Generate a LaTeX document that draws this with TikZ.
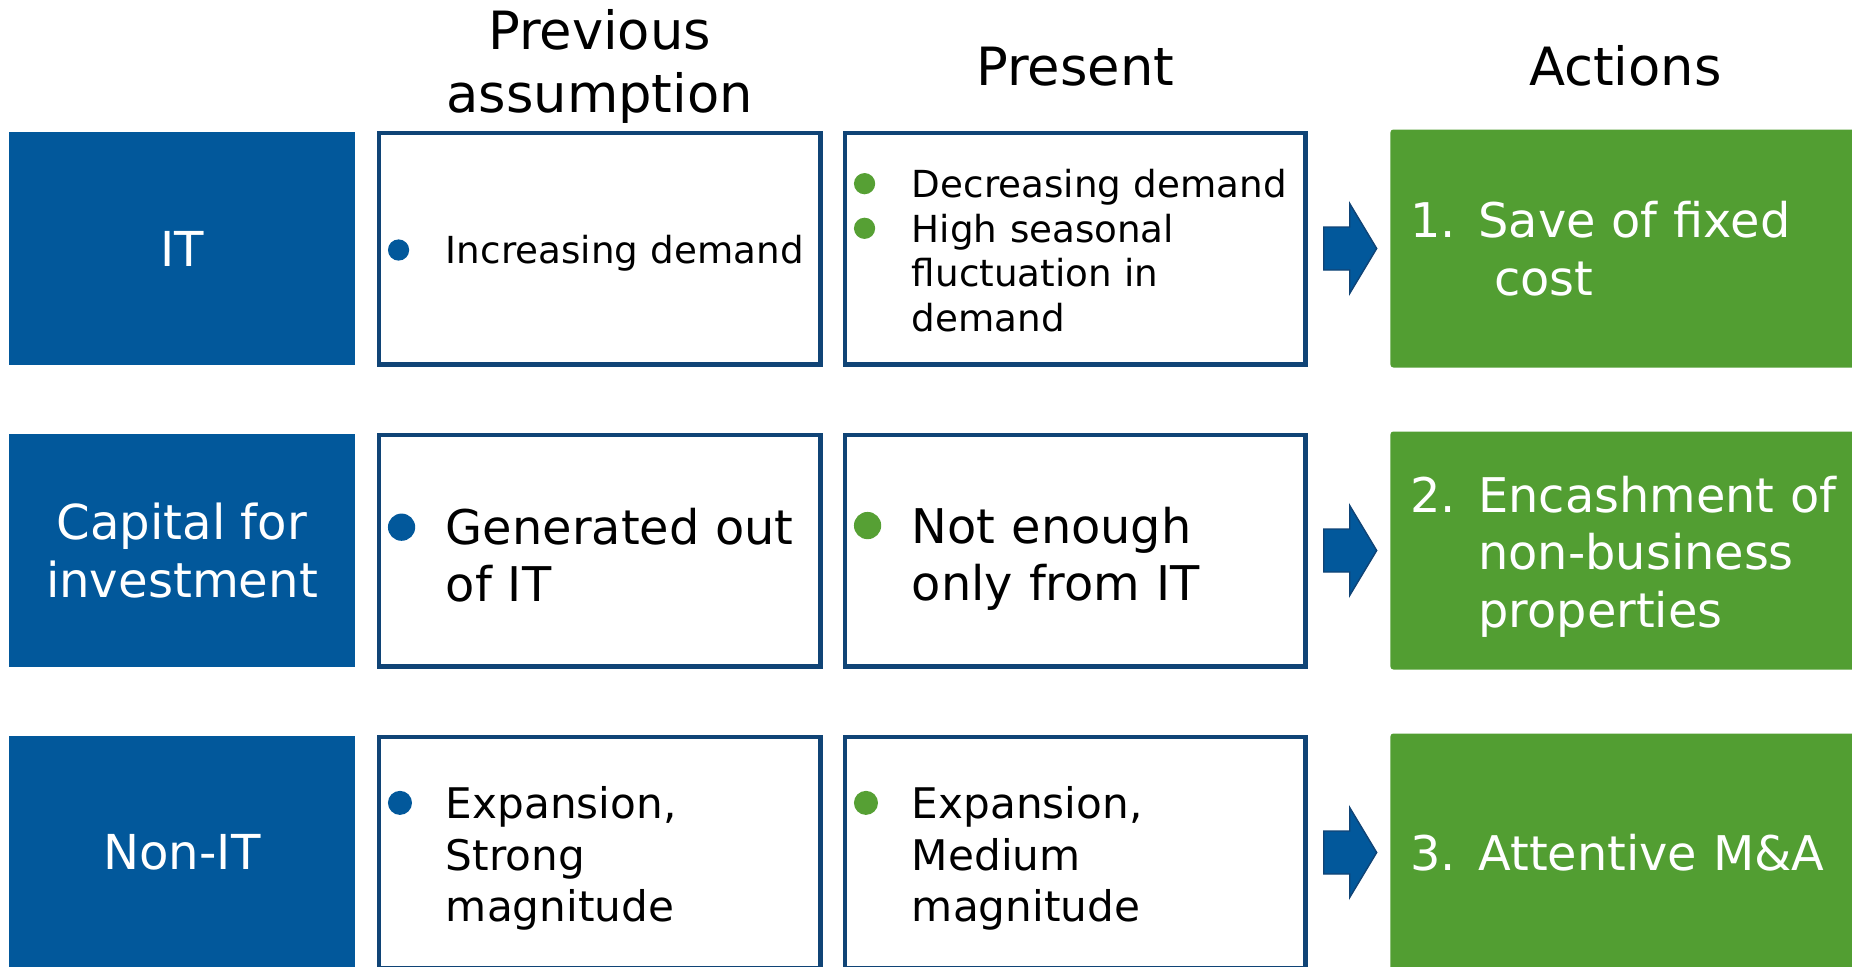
\documentclass[tikz,border=0pt]{standalone}
\usepackage{fontspec}
\setmainfont{DejaVu Sans}
\usepackage{xcolor}
\usepackage{tikz}
\usetikzlibrary{positioning}

\definecolor{topicblue}{RGB}{2,88,155}
\definecolor{framenavy}{RGB}{16,68,118}
\definecolor{actiongreen}{RGB}{82,158,50}
\definecolor{dotgreen}{RGB}{86,160,52}

% extra height of the first line, pushes the text down by this much
\newlength{\celldrop}
% line with a round dot and hanging indent
\newcommand{\dotitem}[2]{\hangindent=0.58cm\hangafter=1\noindent
  \rule{0pt}{\dimexpr0.76em+2\celldrop\relax}%
  \makebox[0.58cm][l]{\tikz[baseline=0pt]\fill[#1] (0.285em,0.37em) circle[radius=0.285em];}#2\par}
% numbered line with hanging indent
\newcommand{\numitem}[2]{\hangindent=0.68cm\hangafter=1\noindent
  \rule{0pt}{\dimexpr0.76em+2\celldrop\relax}%
  \makebox[0.68cm][l]{#1}#2\par}

\tikzset{
    %Define style for the row titles
    topic/.style={
           rectangle,
           fill=topicblue,
           text=white,
           minimum width=3.46cm,
           minimum height=2.33cm,
           inner sep=0pt,
           align=center,
           font=\fontsize{13.7}{16.5}\selectfont},
    %Define style for framed cells
    cell/.style={
           rectangle,
           draw=framenavy, line width=1.28pt,
           minimum height=2.315cm,
           inner xsep=0.09cm,
           align=left},
    prevcell/.style={cell, text width=4.235cm},
    prescell/.style={cell, text width=4.425cm},
    % push the text a little down
    drop/.style={execute at begin node={\setlength{\celldrop}{#1}}},
    % Define style for action boxes
    action/.style={
           rectangle,
           rounded corners=0.03cm,
           fill=actiongreen,
           text=white,
           minimum height=2.38cm,
           inner xsep=0.2cm,
           text width=4.3cm,
           align=left,
           font=\fontsize{13.6}{16.4}\selectfont},
    header/.style={
           inner sep=0pt,
           align=center,
           font=\fontsize{15}{17.9}\selectfont},
    small/.style={font=\fontsize{10.6}{12.7}\selectfont},
    large/.style={font=\fontsize{13.6}{16.2}\selectfont},
    medium/.style={font=\fontsize{12}{14.7}\selectfont},
    % Define block arrow
    nextarrow/.pic={
           \filldraw[fill=topicblue, draw=framenavy, line width=0.4pt]
             (0,0.215) -- (0.26,0.215) -- (0.26,0.45) -- (0.53,0)
             -- (0.26,-0.45) -- (0.26,-0.215) -- (0,-0.215) -- cycle;}
}

\begin{document}
\begin{tikzpicture}
    \useasboundingbox (0,-9.66) rectangle (18.52,0);
    \clip (0,-9.66) rectangle (18.52,0);
    % row titles
    \node[topic] (it) at (1.82,-2.485) {IT};
    \node[topic] (capital) at (1.82,-5.505) {Capital for\\investment};
    \node[topic] (nonit) at (1.82,-8.525) {Non-IT};
    % previous assumption
    \node[prevcell, small, drop=0.05cm, right=0.21cm of it] (prev1)
        {\dotitem{topicblue}{Increasing demand}};
    \node[prevcell, large, drop=0.05cm, right=0.21cm of capital] (prev2)
        {\dotitem{topicblue}{Generated out\newline of IT}};
    \node[prevcell, medium, drop=0.06cm, right=0.21cm of nonit] (prev3)
        {\dotitem{topicblue}{Expansion,\newline Strong\newline magnitude}};
    % present
    \node[prescell, small, drop=0.02cm, right=0.2cm of prev1] (pres1)
        {\dotitem{dotgreen}{Decreasing demand}\dotitem{dotgreen}{High seasonal\newline fluctuation in\newline demand}};
    \node[prescell, large, drop=0.08cm, right=0.2cm of prev2] (pres2)
        {\dotitem{dotgreen}{Not enough\newline only from IT}};
    \node[prescell, medium, drop=0.06cm, right=0.2cm of prev3] (pres3)
        {\dotitem{dotgreen}{Expansion,\newline Medium\newline magnitude}};
    % actions
    \node[action, right=0.82cm of pres1] (act1)
        {\numitem{1.}{Save of fixed\newline\hspace*{0.33em}cost}};
    \node[action, drop=0.06cm, right=0.82cm of pres2] (act2)
        {\numitem{2.}{Encashment of\newline non-business\newline properties}};
    \node[action, right=0.82cm of pres3] (act3)
        {\numitem{3.}{Attentive M\&A}};
    \pic at ([xshift=0.16cm]pres1.east) {nextarrow};
    \pic at ([xshift=0.16cm]pres2.east) {nextarrow};
    \pic at ([xshift=0.16cm]pres3.east) {nextarrow};
    % column headers
    \node[header, above=0.06cm of prev1] (prevhead) {Previous\\assumption};
    \node[header, above=0.44cm of pres1] (preshead) {Present};
    \node[header, above=0.42cm of act1] (acthead) {Actions};
\end{tikzpicture}
\end{document}
